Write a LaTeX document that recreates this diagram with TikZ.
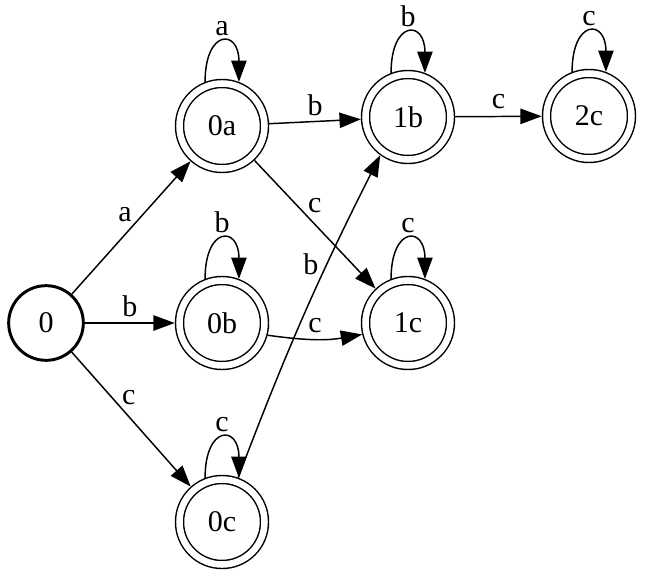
\documentclass[tikz,border=0pt]{standalone}
\usepackage{fontspec}
\setmainfont{Liberation Serif}
\usetikzlibrary{arrows.meta}

\begin{document}
\begin{tikzpicture}[x=0.75pt, y=0.75pt, line width=1.1pt,
    font=\fontsize{22.5}{26}\selectfont,
    >={Triangle[length=16pt, width=11.5pt]},
    startstate/.style={draw, circle, minimum size=56pt, inner sep=0pt, line width=2.2pt},
    final/.style={draw, circle, minimum size=63.75pt, inner sep=0pt,
                  double, double distance=4.9pt, outer sep=3.55pt},
    lbl/.style={inner sep=1pt}]
    \useasboundingbox (0,0) rectangle (645,-577);

    % States
    \node[startstate] (N0) at (46, -323) {0};
    \node[final] (N0a) at (222, -126) {0a};
    \node[final] (N0b) at (222, -323) {0b};
    \node[final] (N0c) at (222, -522) {0c};
    \node[final] (N1b) at (408, -117) {1b};
    \node[final] (N1c) at (408, -323) {1c};
    \node[final] (N2c) at (589, -116) {2c};

    % Transitions
    \draw[->] (N0) -- (N0a) node[lbl, pos=.6, left=7pt] {a};
    \draw[->] (N0) -- (N0b) node[lbl, midway, above=3pt] {b};
    \draw[->] (N0) -- (N0c) node[lbl, pos=.34, right=6pt] {c};
    \draw[->] (N0a) -- (N1b) node[lbl, midway, above=3pt] {b};
    \draw[->] (N0a) -- (N1c) node[lbl, pos=.35, right=7pt] {c};
    \draw[->] (N0b.-15) to[out=-8, in=190] node[lbl, midway, above=3pt] {c} (N1c.194);
    \draw[->] (N0c.70) to[bend left=3] node[lbl, pos=.67, left=5pt] {b} (N1b.234);
    \draw[->] (N1b) -- (N2c) node[lbl, midway, above=4pt] {c};

    % Self loops
    \draw[->] (N0a.111) .. controls +(90:53) and +(90:53) .. (N0a.69) node[lbl, midway, above=3pt] {a};
    \draw[->] (N0b.111) .. controls +(90:53) and +(90:53) .. (N0b.69) node[lbl, midway, above=3pt] {b};
    \draw[->] (N0c.111) .. controls +(90:53) and +(90:53) .. (N0c.69) node[lbl, midway, above=3pt] {c};
    \draw[->] (N1b.111) .. controls +(90:53) and +(90:53) .. (N1b.69) node[lbl, midway, above=3pt] {b};
    \draw[->] (N1c.111) .. controls +(90:53) and +(90:53) .. (N1c.69) node[lbl, midway, above=3pt] {c};
    \draw[->] (N2c.111) .. controls +(90:53) and +(90:53) .. (N2c.69) node[lbl, midway, above=3pt] {c};
\end{tikzpicture}
\end{document}
